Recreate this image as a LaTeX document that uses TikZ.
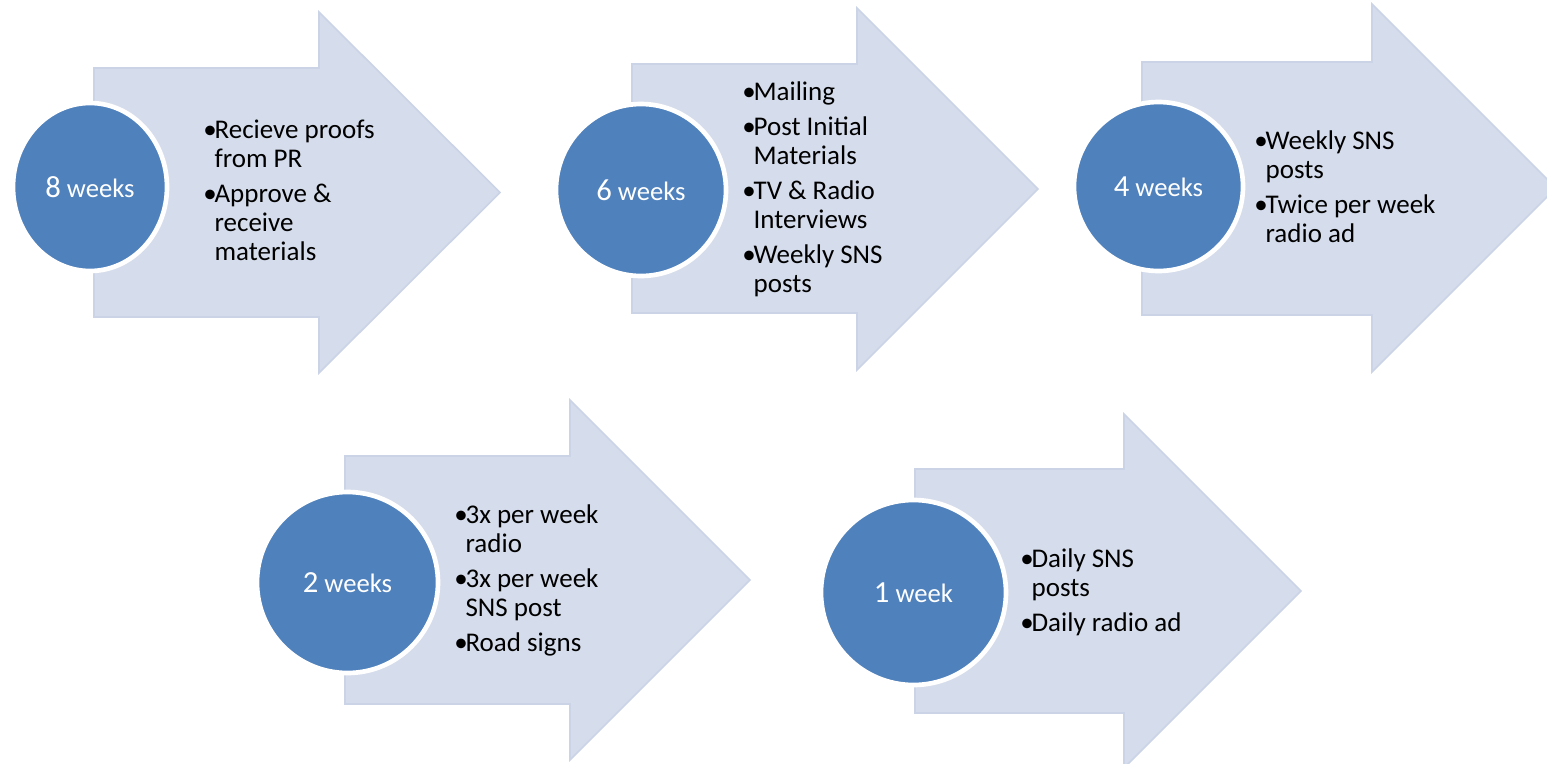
\documentclass[tikz,border=0pt]{standalone}
\usepackage{fontspec}
\setmainfont{Carlito}
\usetikzlibrary{shapes.geometric}
\definecolor{arrowfill}{RGB}{213,220,235}
\definecolor{arrowline}{RGB}{203,212,230}
\definecolor{dotblue}{RGB}{79,129,189}
\newcommand{\bul}[1]{\makebox[8.5pt][l]{•}#1}
\newcommand{\cnt}[1]{\hspace*{8.5pt}#1}
\newcommand{\wk}[2]{{\fontsize{23}{26}\selectfont #1} #2}
\begin{document}
\begin{tikzpicture}[x=0.75pt,y=-0.75pt,
  arrowshape/.style={fill=arrowfill, draw=arrowline, line width=1.2pt, line join=miter},
  weekdot/.style={ellipse, fill=dotblue, draw=white, line width=3.5pt, inner sep=0pt, text=white, font=\fontsize{20}{24}\selectfont},
  itemlist/.style={anchor=base west, inner sep=0pt, font=\fontsize{20.25}{21.75}\selectfont}]
\useasboundingbox (0,0) rectangle (1547,764);
\begin{scope}
\clip (0,0) rectangle (1547,764);
\path[arrowshape] (94,68) -- (319,68) -- (319,12) -- (500,192.5) -- (319,373) -- (319,317) -- (94,317) -- cycle;
\path[arrowshape] (632,64) -- (857,64) -- (857,8) -- (1038,189) -- (857,370) -- (857,313) -- (632,313) -- cycle;
\path[arrowshape] (1142,62) -- (1372,62) -- (1372,4) -- (1556,188) -- (1372,372) -- (1372,315) -- (1142,315) -- cycle;
\path[arrowshape] (345,456) -- (570,456) -- (570,400) -- (750,580) -- (570,760) -- (570,704) -- (345,704) -- cycle;
\path[arrowshape] (915,469) -- (1124,469) -- (1124,414) -- (1301,591) -- (1124,768) -- (1124,713) -- (915,713) -- cycle;
\end{scope}

\node[weekdot, minimum width=154*0.75pt, minimum height=168*0.75pt] (w8) at (90,187) {\wk{8}{weeks}};
\node[weekdot, minimum width=170*0.75pt, minimum height=172*0.75pt] (w6) at (641,190) {\wk{6}{weeks}};
\node[weekdot, minimum width=169*0.75pt, minimum height=169*0.75pt] (w4) at (1158.5,186.5) {\wk{4}{weeks}};
\node[weekdot, minimum width=181*0.75pt, minimum height=181*0.75pt] (w2) at (347.5,582.5) {\wk{2}{weeks}};
\node[weekdot, minimum width=185*0.75pt, minimum height=185*0.75pt] (w1) at (913.5,592.5) {\wk{1}{week}};

\node[itemlist] (t8) at (203,138) {\begin{tabular}[t]{@{}l@{}}
\bul{Recieve proofs}\\ \cnt{from PR}\\[4.5pt]
\bul{Approve \&}\\ \cnt{receive}\\ \cnt{materials}
\end{tabular}};
\node[itemlist] (t6) at (742,100) {\begin{tabular}[t]{@{}l@{}}
\bul{Mailing}\\[4.5pt]
\bul{Post Initial}\\ \cnt{Materials}\\[4.5pt]
\bul{TV \& Radio}\\ \cnt{Interviews}\\[4.5pt]
\bul{Weekly SNS}\\ \cnt{posts}
\end{tabular}};
\node[itemlist] (t4) at (1254,149) {\begin{tabular}[t]{@{}l@{}}
\bul{Weekly SNS}\\ \cnt{posts}\\[4.5pt]
\bul{Twice per week}\\ \cnt{radio ad}
\end{tabular}};
\node[itemlist] (t2) at (454,523) {\begin{tabular}[t]{@{}l@{}}
\bul{3x per week}\\ \cnt{radio}\\[4.5pt]
\bul{3x per week}\\ \cnt{SNS post}\\[4.5pt]
\bul{Road signs}
\end{tabular}};
\node[itemlist] (t1) at (1020,567) {\begin{tabular}[t]{@{}l@{}}
\bul{Daily SNS}\\ \cnt{posts}\\[4.5pt]
\bul{Daily radio ad}
\end{tabular}};
\end{tikzpicture}
\end{document}
